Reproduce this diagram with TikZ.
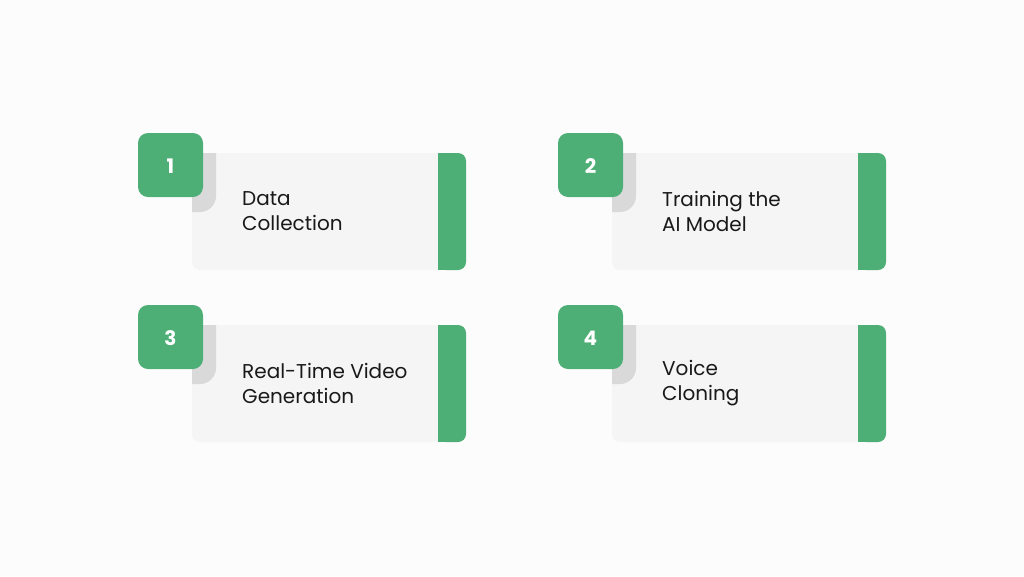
\documentclass[tikz,border=0pt]{standalone}
\usepackage{fontspec}
\setmainfont{Poppins}
\definecolor{gr}{HTML}{4EAF76}
\definecolor{card}{HTML}{F5F5F5}
\definecolor{shad}{HTML}{D9D9D9}
\definecolor{bg}{HTML}{FCFCFC}
\tikzset{
 lbl/.style={anchor=west,align=left,font=\fontsize{20}{25}\selectfont,text=black!90,inner sep=0pt},
 num/.style={font=\fontsize{20}{24}\selectfont\bfseries,text=white},
}
\newcommand{\card}[4]{%
 \begin{scope}[shift={(#1,#2)}]
  \fill[card,rounded corners=8pt] (192,153) rectangle (466,270);
  \fill[gr,rounded corners=8pt] (438,153) rectangle (466,270);
  \fill[gr] (438,153) rectangle (450,270);
  \fill[shad] (192,153) -- (216,153) -- (216,196) arc[start angle=0,end angle=-90,radius=16pt] -- (192,212) -- cycle;
  \fill[gr,rounded corners=10pt] (138,133) rectangle (203,197);
  \node[num] (n#3) at (170.5,166) {#3};
  \node[lbl] (t#3) at (242,211.5) {#4};
 \end{scope}}
\begin{document}
\begin{tikzpicture}[x=1pt,y=-1pt]
\fill[bg] (0,0) rectangle (1024,576);
\useasboundingbox (0,0) rectangle (1024,576);
\card{0}{0}{1}{Data\\Collection}
\card{420}{0}{2}{Training the\\AI Model}
\card{0}{172}{3}{Real-Time Video\\Generation}
\card{420}{172}{4}{Voice\\Cloning}
\end{tikzpicture}
\end{document}
